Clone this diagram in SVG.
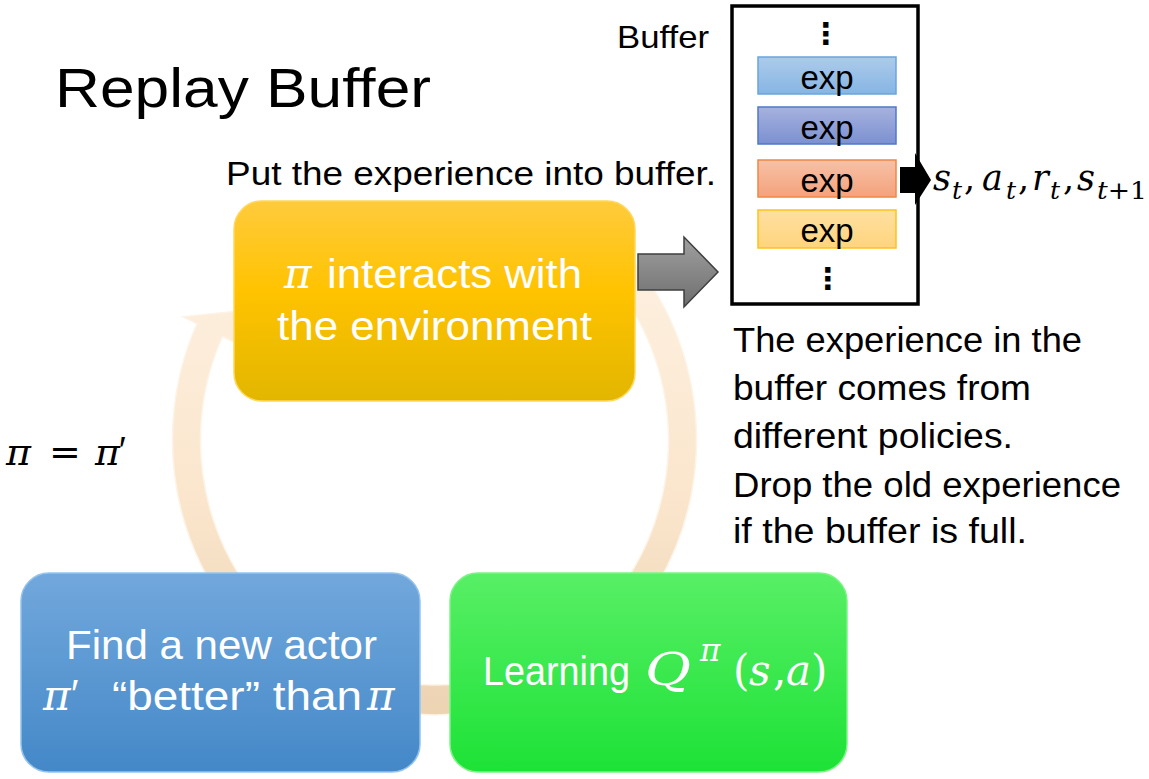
<svg xmlns="http://www.w3.org/2000/svg" width="1149" height="779" viewBox="0 0 1149 779">
<style>
.sans{font-family:"Liberation Sans",Arial,sans-serif;}
.math{font-family:"DejaVu Serif","Liberation Serif",serif;font-style:italic;}
.prime{font-family:"Liberation Sans",Arial,sans-serif;font-style:normal;}
.up{font-style:normal;}
.w{fill:#ffffff;}
.k{fill:#000000;}
.exp{font-family:"Liberation Sans",Arial,sans-serif;font-size:33px;fill:#000;text-anchor:middle;}
.dots{font-family:"DejaVu Sans",sans-serif;font-weight:bold;font-size:30px;fill:#000;text-anchor:middle;}
</style>
<defs>
<linearGradient id="gRing" gradientUnits="userSpaceOnUse" x1="0" y1="165" x2="0" y2="717">
<stop offset="0" stop-color="#fef4e8"/>
<stop offset="0.6" stop-color="#fbe6cd"/>
<stop offset="1" stop-color="#ecd3b2"/>
</linearGradient>
<linearGradient id="gYel" x1="0" y1="0" x2="0" y2="1">
<stop offset="0" stop-color="#ffcb3c"/>
<stop offset="0.45" stop-color="#ffc300"/>
<stop offset="1" stop-color="#e2b600"/>
</linearGradient>
<linearGradient id="gBlue" x1="0" y1="0" x2="0" y2="1">
<stop offset="0" stop-color="#72a8dc"/>
<stop offset="1" stop-color="#4488c8"/>
</linearGradient>
<linearGradient id="gGreen" x1="0" y1="0" x2="0" y2="1">
<stop offset="0" stop-color="#58ef66"/>
<stop offset="1" stop-color="#1de236"/>
</linearGradient>
<linearGradient id="gGray" x1="0" y1="0" x2="0" y2="1">
<stop offset="0" stop-color="#a0a0a0"/>
<stop offset="1" stop-color="#6e6e6e"/>
</linearGradient>
<linearGradient id="gE1" x1="0" y1="0" x2="0" y2="1"><stop offset="0" stop-color="#adcbeb"/><stop offset="1" stop-color="#86b5e3"/></linearGradient>
<linearGradient id="gE2" x1="0" y1="0" x2="0" y2="1"><stop offset="0" stop-color="#a6b2de"/><stop offset="1" stop-color="#7c90d1"/></linearGradient>
<linearGradient id="gE3" x1="0" y1="0" x2="0" y2="1"><stop offset="0" stop-color="#f7c1a6"/><stop offset="1" stop-color="#f4a27c"/></linearGradient>
<linearGradient id="gE4" x1="0" y1="0" x2="0" y2="1"><stop offset="0" stop-color="#ffe0a2"/><stop offset="1" stop-color="#ffd47c"/></linearGradient>
</defs>
<rect width="1149" height="779" fill="#ffffff"/>

<text class="sans k" x="55" y="107" font-size="56" textLength="376" lengthAdjust="spacingAndGlyphs">Replay Buffer</text>

<g id="connectors">
<path id="cycle" d="M 584.8 214.7 A 262 275 0 1 1 197.0 323.8 L 182.8 316.8 L 268 308 L 239.6 344.7 L 222.4 336.5 A 234 245 0 1 0 568.7 239.3 Z" fill="url(#gRing)" stroke="#fdf3e6" stroke-width="1.5"/>
<path id="put-arrow" d="M 638 254 L 684 254 L 684 237 L 718 272 L 684 307 L 684 290 L 638 290 Z" fill="url(#gGray)" stroke="#3f3f3f" stroke-width="1.5" stroke-linejoin="miter"/>
</g>

<g id="node-interact">
<rect x="234" y="201" width="401" height="200" rx="28" fill="url(#gYel)" stroke="#ffd75a" stroke-width="1.5"/>
<text class="math w" x="284" y="288" font-size="42">π</text>
<text class="sans w" x="327" y="288" font-size="41" textLength="255" lengthAdjust="spacingAndGlyphs">interacts with</text>
<text class="sans w" x="277" y="340" font-size="41" textLength="315" lengthAdjust="spacingAndGlyphs">the environment</text>
</g>

<g id="node-actor">
<rect x="21" y="573" width="399" height="199" rx="28" fill="url(#gBlue)" stroke="#93c3ee" stroke-width="1.5"/>
<text class="sans w" x="66" y="659" font-size="41" textLength="311" lengthAdjust="spacingAndGlyphs">Find a new actor</text>
<text class="math w" x="43" y="710" font-size="42">π</text>
<text class="prime w" x="71" y="708" font-size="40">′</text>
<text class="sans w" x="112" y="710" font-size="41" textLength="250" lengthAdjust="spacingAndGlyphs">“better” than</text>
<text class="math w" x="367" y="710" font-size="42">π</text>
</g>

<g id="node-learning">
<rect x="450" y="573" width="397" height="199" rx="28" fill="url(#gGreen)" stroke="#7cf386" stroke-width="1.5"/>
<text class="sans w" x="483" y="685" font-size="41" textLength="147" lengthAdjust="spacingAndGlyphs">Learning</text>
<text class="math w" x="645" y="685" font-size="44" textLength="46" lengthAdjust="spacingAndGlyphs">Q</text>
<text class="math w" x="700" y="661" font-size="31">π</text>
<text class="math w up" x="733" y="685" font-size="42">(</text>
<text class="math w" x="749" y="685" font-size="42">s</text>
<text class="math w up" x="773" y="685" font-size="42">,</text>
<text class="math w" x="786" y="685" font-size="42">a</text>
<text class="math w up" x="811" y="685" font-size="42">)</text>
</g>

<g id="label-update" class="math k" font-size="38">
<text x="6" y="465">π</text>
<text x="49" y="465" class="up">=</text>
<text x="95" y="465">π</text>
<text x="119" y="463" class="prime" font-size="36">′</text>
</g>

<text id="label-put" class="sans k" x="226" y="185" font-size="34" textLength="490" lengthAdjust="spacingAndGlyphs">Put the experience into buffer.</text>

<g id="node-buffer">
<text class="sans k" x="617" y="48" font-size="32" textLength="92" lengthAdjust="spacingAndGlyphs">Buffer</text>
<rect x="732" y="6" width="186" height="298" fill="#ffffff" stroke="#000000" stroke-width="3.5"/>
<text class="dots" x="826" y="44">⋮</text>
<rect x="758" y="57" width="138" height="37" fill="url(#gE1)" stroke="#6aa5dd" stroke-width="1.5"/>
<text class="exp" x="827" y="89">exp</text>
<rect x="758" y="107" width="138" height="37" fill="url(#gE2)" stroke="#4f78c8" stroke-width="1.5"/>
<text class="exp" x="827" y="139">exp</text>
<rect x="758" y="160" width="138" height="37" fill="url(#gE3)" stroke="#ef8747" stroke-width="1.5"/>
<text class="exp" x="827" y="192">exp</text>
<rect x="758" y="210" width="138" height="38" fill="url(#gE4)" stroke="#ffc21a" stroke-width="1.5"/>
<text class="exp" x="827" y="242">exp</text>
<text class="dots" x="828" y="289">⋮</text>
</g>

<path id="sample-arrow" d="M 900 167 L 915 167 L 915 153 L 931 180 L 915 205 L 915 193 L 900 193 Z" fill="#000000"/>

<g id="label-transition" class="math k" font-size="35">
<text x="933" y="190">s</text>
<text x="952" y="199" font-size="25">t</text>
<text x="964" y="190" class="up">,</text>
<text x="982" y="190">a</text>
<text x="1006" y="199" font-size="25">t</text>
<text x="1018" y="190" class="up">,</text>
<text x="1032" y="190">r</text>
<text x="1050" y="199" font-size="25">t</text>
<text x="1063" y="190" class="up">,</text>
<text x="1077" y="190">s</text>
<text x="1097" y="199" font-size="25" textLength="50" lengthAdjust="spacingAndGlyphs">t<tspan class="up">+1</tspan></text>
</g>

<g id="notes" class="sans k" font-size="35">
<text x="733" y="352" textLength="349" lengthAdjust="spacingAndGlyphs">The experience in the</text>
<text x="733" y="400" textLength="298" lengthAdjust="spacingAndGlyphs">buffer comes from</text>
<text x="733" y="448" textLength="280" lengthAdjust="spacingAndGlyphs">different policies.</text>
<text x="733" y="497" textLength="388" lengthAdjust="spacingAndGlyphs">Drop the old experience</text>
<text x="733" y="543" textLength="294" lengthAdjust="spacingAndGlyphs">if the buffer is full.</text>
</g>
</svg>
